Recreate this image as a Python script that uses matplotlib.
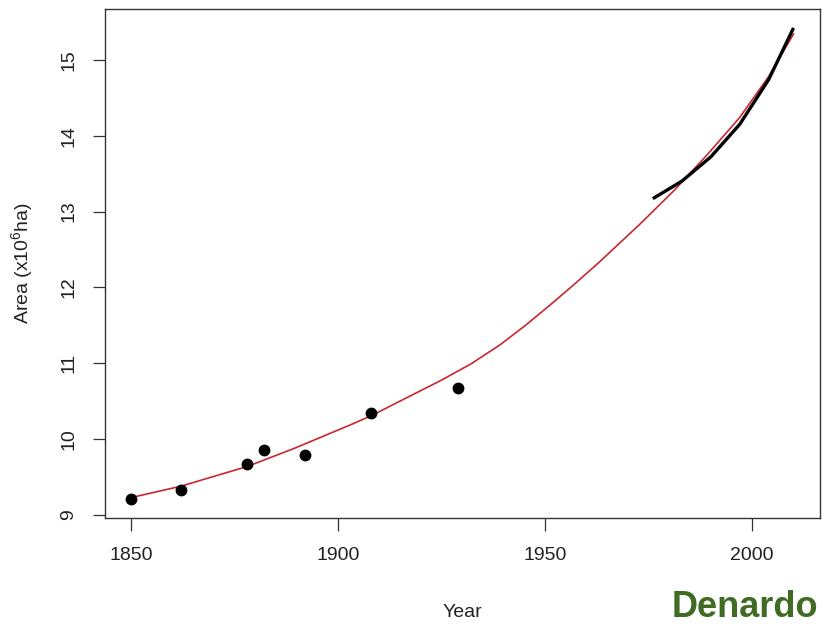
import matplotlib
matplotlib.use('Agg')
import matplotlib.pyplot as plt

plt.rcParams['font.family'] = ['Liberation Sans', 'DejaVu Sans']
plt.rcParams['mathtext.default'] = 'regular'

# observed survey points
obs_years = [1850, 1862, 1878, 1882, 1892, 1908, 1929]
obs_area = [9.21, 9.33, 9.67, 9.85, 9.79, 10.35, 10.68]

# fitted curve (red)
fit_years = [1850, 1862, 1878, 1889, 1903, 1908, 1925, 1932, 1939, 1945, 1951,
             1957, 1963, 1973, 1981, 1989, 1997, 2004, 2010]
fit_area = [9.23, 9.38, 9.64, 9.87, 10.19, 10.31, 10.78, 10.99, 11.24, 11.49, 11.76,
            12.04, 12.33, 12.84, 13.27, 13.74, 14.24, 14.78, 15.34]

# recent series (black)
rec_years = [1976, 1983, 1990, 1997, 2004, 2010]
rec_area = [13.17, 13.40, 13.72, 14.15, 14.74, 15.42]

xticks = [1850, 1900, 1950, 2000]
yticks = [9, 10, 11, 12, 13, 14, 15]

W, H = 827, 627
fig = plt.figure(figsize=(W / 100, H / 100), dpi=100)
fig.patch.set_facecolor('white')
ax = fig.add_axes([105 / W, 1 - 518 / H, (820 - 105) / W, (518 - 9) / H])

ax.plot(fit_years, fit_area, color='#c8282d', lw=1.2, zorder=2)
ax.plot(rec_years, rec_area, color='black', lw=2.4, solid_capstyle='butt',
        solid_joinstyle='round', zorder=3)
ax.plot(obs_years, obs_area, 'o', color='black', ms=7.5, zorder=4)

ax.set_xlim(1843.6, 2016.4)
ax.set_ylim(8.96, 15.67)
ax.set_xticks(xticks)
ax.set_yticks(yticks)
ax.tick_params(axis='both', direction='out', length=9, width=0.9,
               color='#333333', labelsize=14, labelcolor='#222222')
ax.tick_params(axis='x', pad=12)
ax.tick_params(axis='y', pad=11)
for lbl in ax.get_yticklabels():
    lbl.set_rotation(90)
    lbl.set_va('center')

for sp in ax.spines.values():
    sp.set_color('#333333')
    sp.set_linewidth(1.0)

ax.set_xlabel('Year', fontsize=14, color='#222222', va='center')
ax.xaxis.set_label_coords(0.5, -0.185)
ax.set_ylabel('Area (x10$^{6}$ha)', fontsize=14, color='#222222', va='center')
ax.yaxis.set_label_coords(-0.116, 0.5)

# watermark, kept just inside the bottom edge
fig.text(672 / W, 1 - 625 / H, 'Denardo', fontsize=26, fontweight='bold',
         color='#3f6b23', ha='left', va='bottom')

fig.savefig('out.png', dpi=100, facecolor='white')
